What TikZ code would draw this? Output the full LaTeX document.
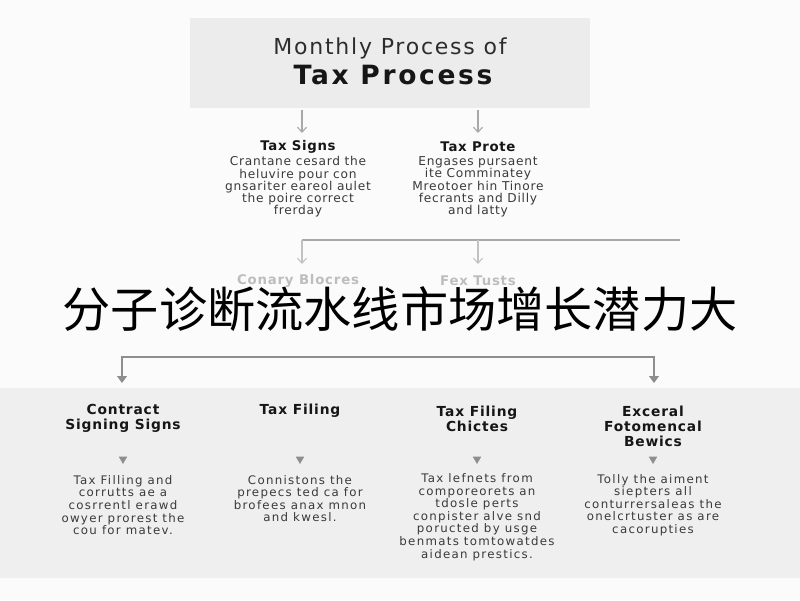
\documentclass[tikz,border=0pt]{standalone}
\usepackage{fontspec}
\setmainfont{DejaVu Sans}
\newfontfamily\cjk{Noto Sans CJK SC}
\usetikzlibrary{arrows.meta,shapes.geometric}
\definecolor{bgc}{HTML}{FBFBFB}
\definecolor{boxc}{HTML}{ECECEC}
\definecolor{panelc}{HTML}{EFEFEF}
\definecolor{linec}{HTML}{A8A8A8}
\definecolor{tipc}{HTML}{8E8E8E}
\definecolor{headc}{HTML}{161616}
\definecolor{descc}{HTML}{3A3A3A}
\definecolor{fadec}{HTML}{BDBDBD}
\tikzset{
  head/.style={font=\bfseries\fontsize{13.3}{15}\selectfont\addfontfeature{LetterSpace=5}, text=headc, align=center, inner sep=0pt},
  bhead/.style={font=\bfseries\fontsize{13.8}{15}\selectfont\addfontfeature{LetterSpace=6}, text=headc, align=center, inner sep=0pt},
  desc/.style={font=\fontsize{12.2}{12.3}\selectfont\addfontfeature{LetterSpace=6}, text=descc, align=center, inner sep=0pt},
  bdesc/.style={font=\fontsize{11.8}{12.6}\selectfont\addfontfeature{LetterSpace=11}, text=descc, align=center, inner sep=0pt},
  fade/.style={font=\bfseries\fontsize{13.3}{15}\selectfont\addfontfeature{LetterSpace=6}, text=fadec, inner sep=0pt},
  lightarr/.style={draw=linec, line width=1.1pt, -{Straight Barb[length=5pt,width=9pt,line width=1.1pt]}},
  conn/.style={draw=linec, line width=1.1pt},
  tarr/.style={draw=linec, line width=1.1pt},
  tri/.style={shape=regular polygon, regular polygon sides=3, shape border rotate=180, fill=tipc, inner sep=0pt, minimum size=10pt},
}
\begin{document}
\begin{tikzpicture}[x=1pt,y=-1pt]
\useasboundingbox (0,0) rectangle (800,600);
\fill[bgc] (0,0) rectangle (800,600);

% top title box
\node[fill=boxc, minimum width=400pt, minimum height=90pt, inner sep=0pt] (topbox) at (390,63) {};
\node[font=\fontsize{22}{24}\selectfont\addfontfeature{LetterSpace=8}, text=headc!90, inner sep=0pt] (t1) at (390,48) {Monthly Process of};
\node[font=\bfseries\fontsize{26.5}{28}\selectfont\addfontfeature{LetterSpace=10}, text=headc, inner sep=0pt] (t2) at (393,75) {Tax Process};

% second row
\node[head] (ts) at (298,147) {Tax Signs};
\node[head] (tp) at (478,147) {Tax Prote};
\node[desc] (tsd) at (298,187) {Crantane cesard the\\heluvire pour con\\gnsariter eareol aulet\\the poire correct\\frerday};
\node[desc] (tpd) at (478,187) {Engases pursaent\\ite Comminatey\\Mreotoer hin Tinore\\fecrants and Dilly\\and latty};

\coordinate (a1) at (302,110);
\coordinate (a2) at (478,110);
\draw[lightarr] (a1) -- (302,133);
\draw[lightarr] (a2) -- (478,133);

% faded row
\node[fade] (cb) at (298,281) {Conary Blocres};
\node[fade] (ft) at (478,281) {Fex Tusts};
\coordinate (r1) at (680,240);
\coordinate (j1) at (302,240);
\coordinate (j2) at (478,240);
\draw[conn] (r1) -- (j1);
\draw[lightarr, draw=linec!70] (j1) -- (302,264);
\draw[lightarr, draw=linec!70] (j2) -- (478,264);

% third connector
\coordinate (k1) at (122,357);
\coordinate (k4) at (654,357);
\coordinate (e1) at (122,383);
\coordinate (e4) at (654,383);
\draw[tarr, {Triangle[length=7pt,width=10pt,fill=tipc]}-{Triangle[length=7pt,width=10pt,fill=tipc]}, tipc] (e1) -- (k1) -- (k4) -- (e4);

% bottom panel
\node[fill=panelc, minimum width=800pt, minimum height=190pt, inner sep=0pt] (panel) at (400,483) {};

\node[bhead] (h1) at (123,418.5) {Contract\\Signing Signs};
\node[bhead] (h2) at (300,411) {Tax Filing};
\node[bhead] (h3) at (477,418.5) {Tax Filing\\Chictes};
\node[bhead] (h4) at (653,426) {Exceral\\Fotomencal\\Bewics};

\node[tri] (g1) at (123,459) {};
\node[tri] (g2) at (300,459) {};
\node[tri] (g3) at (477,459) {};
\node[tri] (g4) at (653,459) {};

\node[bdesc] (d1) at (123,505) {Tax Filling and\\corrutts ae a\\cosrrentl erawd\\owyer prorest the\\cou for matev.};
\node[bdesc] (d2) at (300,498.5) {Connistons the\\prepecs ted ca for\\brofees anax mnon\\and kwesl.};
\node[bdesc] (d3) at (477,517) {Tax lefnets from\\comporeorets an\\tdosle perts\\conpister alve snd\\poructed by usge\\benmats tomtowatdes\\aidean prestics.};
\node[bdesc] (d4) at (653,505) {Tolly the aiment\\siepters all\\conturrersaleas the\\onelcrtuster as are\\cacorupties};

% overlay chinese
\node[font=\cjk\fontsize{48.2}{56}\selectfont, text=black, inner sep=0pt] (cn) at (400,309) {分子诊断流水线市场增长潜力大};
\end{tikzpicture}
\end{document}
